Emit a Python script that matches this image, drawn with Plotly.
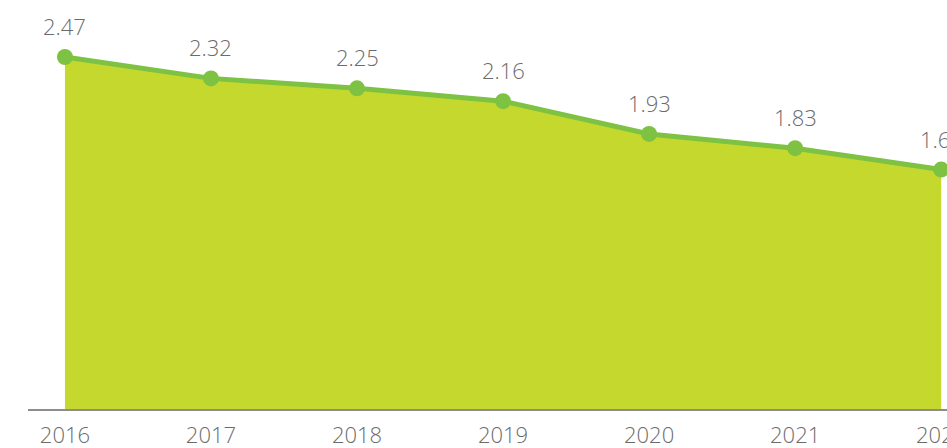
import plotly.graph_objects as go

years = [2016, 2017, 2018, 2019, 2020, 2021, 2022]
values = [2.47, 2.32, 2.25, 2.16, 1.93, 1.83, 1.68]
tick_labels = [str(y) for y in years]

line_green = "#7dc242"
fill_green = "#c5d82e"
text_gray = "#6b6b6b"

fig = go.Figure()
fig.add_trace(go.Scatter(
    x=years, y=values,
    mode="lines+markers",
    fill="tozeroy",
    fillcolor=fill_green,
    line=dict(color=line_green, width=5),
    marker=dict(color=line_green, size=16),
    cliponaxis=False,
    hoverinfo="skip",
))

for x, v in zip(years, values):
    fig.add_annotation(
        x=x, y=v, text=f"{v:.2f}",
        showarrow=False, yshift=31,
        font=dict(family="Open Sans", size=22, color=text_gray, weight=300),
    )

fig.update_layout(
    width=947, height=448,
    margin=dict(l=28, r=0, t=0, b=39),
    paper_bgcolor="white", plot_bgcolor="white",
    showlegend=False,
    xaxis=dict(
        range=[2015.747, 2022.04],
        tickvals=years, ticktext=tick_labels,
        showgrid=False, zeroline=False,
        showline=True, linecolor="#8c8c8c", linewidth=2,
        ticks="outside", ticklen=6, tickcolor="rgba(0,0,0,0)",
        ticklabeloverflow="allow",
        automargin=False,
        tickfont=dict(family="Open Sans", size=22, color=text_gray, weight=300),
    ),
    yaxis=dict(
        range=[0, 2.87],
        showgrid=False, zeroline=False, showline=False,
        showticklabels=False, ticks="",
        automargin=False,
    ),
)

fig.write_html("out.html")
